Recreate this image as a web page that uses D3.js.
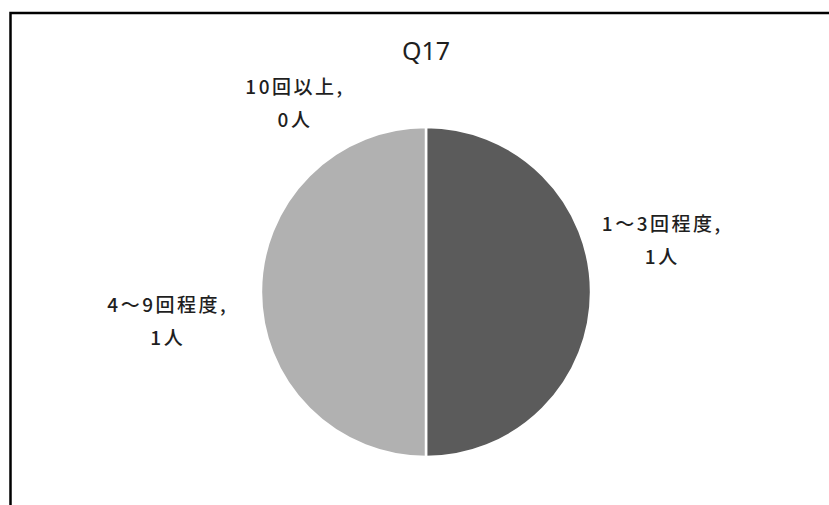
<!DOCTYPE html>
<html>
<head>
<meta charset="utf-8">
<script src="https://cdn.jsdelivr.net/npm/d3@7"></script>
<style>
  html, body { margin: 0; padding: 0; background: #fff; }
  svg { display: block; }
  text { font-family: "Noto Sans CJK JP", "Noto Sans", sans-serif; fill: #1f1f1f; }
</style>
</head>
<body>
<svg id="chart" width="829" height="505"></svg>
<script>
// Q17 responses
const categories = ["1〜3回程度", "4〜9回程度", "10回以上"];
const counts = [1, 1, 0];
const unit = "人";
const title = "Q17";

const sliceColors = ["#5b5b5b", "#b1b1b1", "#8a8a8a"];

const W = 829, H = 505;
const cx = 426, cy = 292, radius = 165;
const labelRadius = radius * 1.45;
// label nudges from the arc mid-point, per slice
const labelNudge = [[-3, -52], [-19, 29], [-131, 51]];

const svg = d3.select("#chart");

// frame (only the top and left edges are within view)
svg.append("rect")
  .attr("x", 10.5).attr("y", 13).attr("width", W + 20).attr("height", H + 20)
  .attr("fill", "none").attr("stroke", "#000").attr("stroke-width", 2.5);

// title
svg.append("text")
  .attr("x", cx).attr("y", 60)
  .attr("text-anchor", "middle")
  .style("font-family", "'Noto Sans', sans-serif")
  .style("font-size", "25px")
  .text(title);

const data = categories.map((c, i) => ({ name: c, value: counts[i], idx: i }));

const pie = d3.pie().value(d => d.value).sort(null);
const arcs = pie(data);

const arc = d3.arc().innerRadius(0).outerRadius(radius);
const labelArc = d3.arc().innerRadius(labelRadius).outerRadius(labelRadius);

const g = svg.append("g").attr("transform", `translate(${cx},${cy})`);

g.selectAll("path.slice")
  .data(arcs.filter(a => a.value > 0))
  .enter().append("path")
  .attr("class", "slice")
  .attr("d", arc)
  .attr("fill", d => sliceColors[d.data.idx])
  .attr("stroke", "#fff")
  .attr("stroke-width", 2.5);

const lineGap = 33;
const labels = g.selectAll("text.lbl")
  .data(arcs)
  .enter().append("text")
  .attr("class", "lbl")
  .attr("text-anchor", "middle")
  .style("font-size", "19px")
  .style("font-weight", "500")
  .style("letter-spacing", "2.5px")
  .attr("transform", d => {
    const [x, y] = labelArc.centroid(d);
    const n = labelNudge[d.data.idx];
    return `translate(${x + n[0]},${y + n[1]})`;
  });

labels.append("tspan")
  .attr("x", 0).attr("y", -lineGap / 2 + 7)
  .text(d => d.data.name + ",");
labels.append("tspan")
  .attr("x", 0).attr("y", lineGap / 2 + 7)
  .text(d => d.data.value + unit);
</script>
</body>
</html>
